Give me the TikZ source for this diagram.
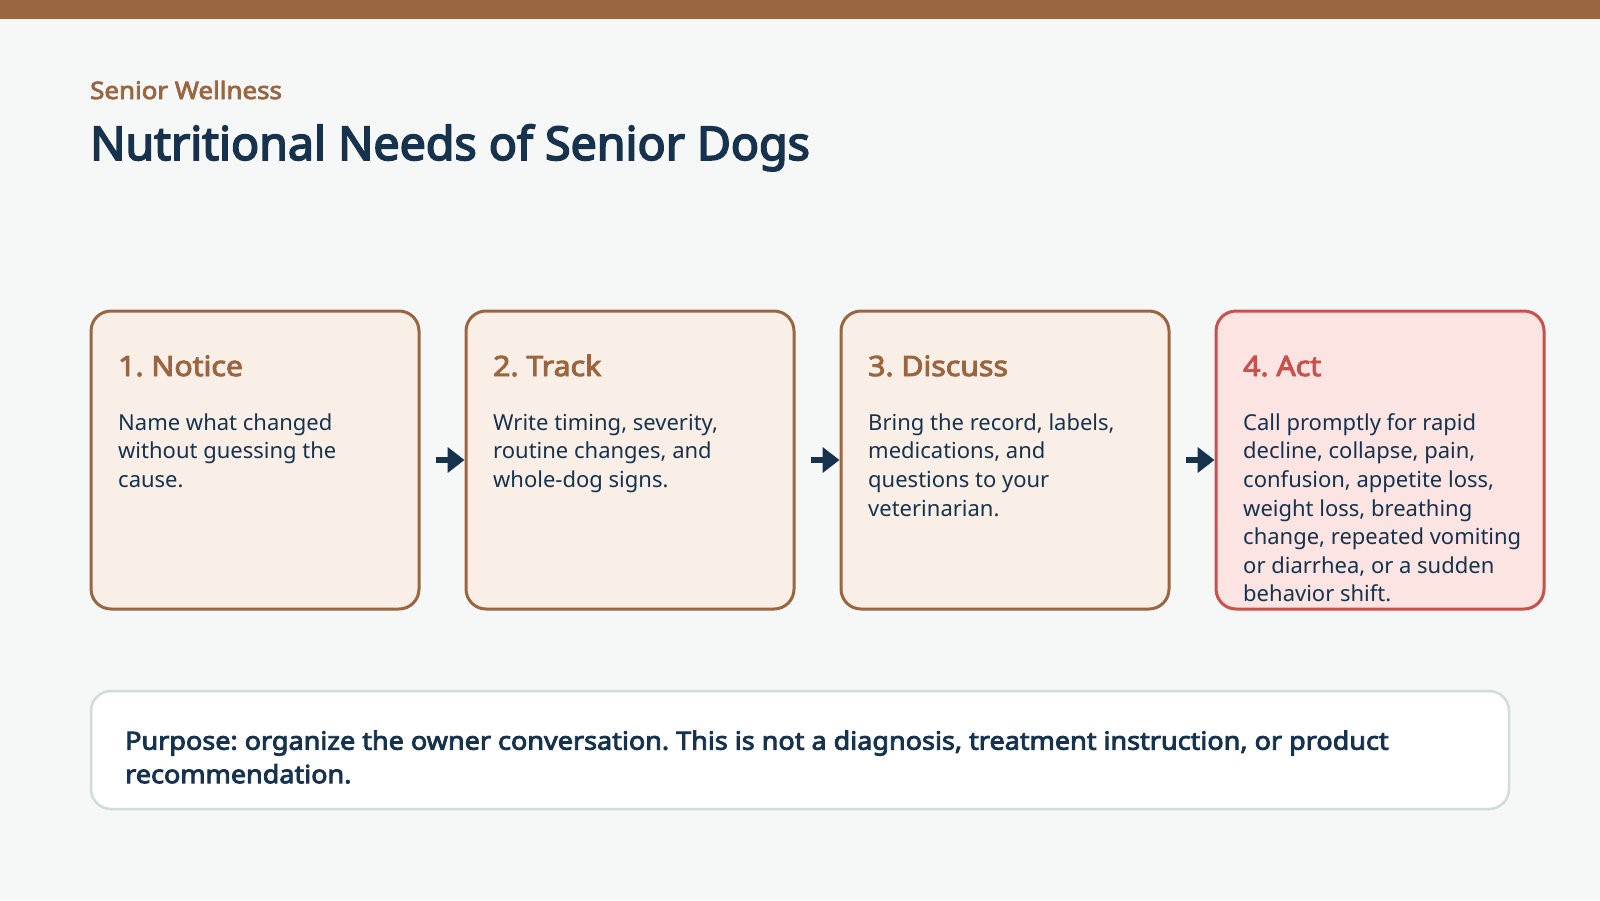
\documentclass[tikz,border=0pt]{standalone}
\usepackage{fontspec}
\setmainfont{Noto Sans}
\newfontfamily\heavyfont{Noto Sans}[FakeBold=3.4,FakeStretch=1.08]
\newfontfamily\titlefont{Noto Sans}[FakeBold=3.6]
\usepackage{xcolor}
\usetikzlibrary{arrows.meta,positioning}
\frenchspacing

\definecolor{pagebg}{HTML}{F6F8F7}
\definecolor{barbrown}{HTML}{9A6642}
\definecolor{inkblue}{HTML}{17324D}
\definecolor{cardfill}{HTML}{F9EFE7}
\definecolor{alertred}{HTML}{C8524B}
\definecolor{alertfill}{HTML}{FBE4E1}
\definecolor{noteline}{HTML}{CEDCDA}

\begin{document}
\begin{tikzpicture}[
  x=1pt,y=-1pt,
  card/.style={draw=barbrown,line width=3pt,rounded corners=20pt,fill=cardfill,minimum width=328pt,minimum height=298pt,inner sep=0pt},
  alertcard/.style={card,draw=alertred,fill=alertfill},
  cardhead/.style={anchor=base west,inner sep=0pt,text=barbrown,font=\heavyfont\fontsize{28}{34}\selectfont},
  cardtext/.style={anchor=north west,inner sep=0pt,align=left,text=inkblue,font=\fontsize{22}{28.6}\selectfont},
  notebox/.style={draw=noteline,line width=2.5pt,rounded corners=20pt,fill=white,minimum width=1418pt,minimum height=118pt,inner sep=0pt},
  flow/.style={-{Triangle[length=17pt,width=25pt]},line width=6pt,draw=inkblue,shorten <=15pt}
]
\useasboundingbox (0,0) rectangle (1600,900);
\fill[pagebg] (0,0) rectangle (1600,900);
\fill[barbrown] (0,0) rectangle (1600,19);

\node[anchor=base west,inner sep=0pt,text=barbrown,font=\heavyfont\fontsize{24}{29}\selectfont] (kicker) at (90,99) {Senior Wellness};
\node[anchor=base west,inner sep=0pt,text=inkblue,font=\titlefont\fontsize{46.5}{56}\selectfont] (title) at (90,160) {Nutritional Needs of Senior Dogs};

\node[card] (notice) at (255,460) {};
\node[card] (track) at (630,460) {};
\node[card] (discuss) at (1005,460) {};
\node[alertcard] (act) at (1380,460) {};

\node[cardhead] (noticehead) at (118,376) {1. Notice};
\node[cardhead] (trackhead) at (493,376) {2. Track};
\node[cardhead] (discusshead) at (868,376) {3. Discuss};
\node[cardhead,text=alertred] (acthead) at (1243,376) {4. Act};

\node[cardtext] (noticetext) at (118,410) {\strut Name what changed\\without guessing the\\cause.};
\node[cardtext] (tracktext) at (493,410) {\strut Write timing, severity,\\routine changes, and\\whole-dog signs.};
\node[cardtext] (discusstext) at (868,410) {\strut Bring the record, labels,\\medications, and\\questions to your\\veterinarian.};
\node[cardtext] (acttext) at (1243,410) {\strut Call promptly for rapid\\decline, collapse, pain,\\confusion, appetite loss,\\weight loss, breathing\\change, repeated vomiting\\or diarrhea, or a sudden\\behavior shift.};

\draw[flow] (notice) -- (track);
\draw[flow] (track) -- (discuss);
\draw[flow] (discuss) -- (act);

\node[notebox] (purpose) at (800,750) {};
\node[anchor=north west,inner sep=0pt,align=left,text=inkblue,font=\heavyfont\fontsize{25}{33.5}\selectfont] (purposetext) at (125,726) {\strut Purpose: organize the owner conversation. This is not a diagnosis, treatment instruction, or product\\recommendation.};
\end{tikzpicture}
\end{document}
